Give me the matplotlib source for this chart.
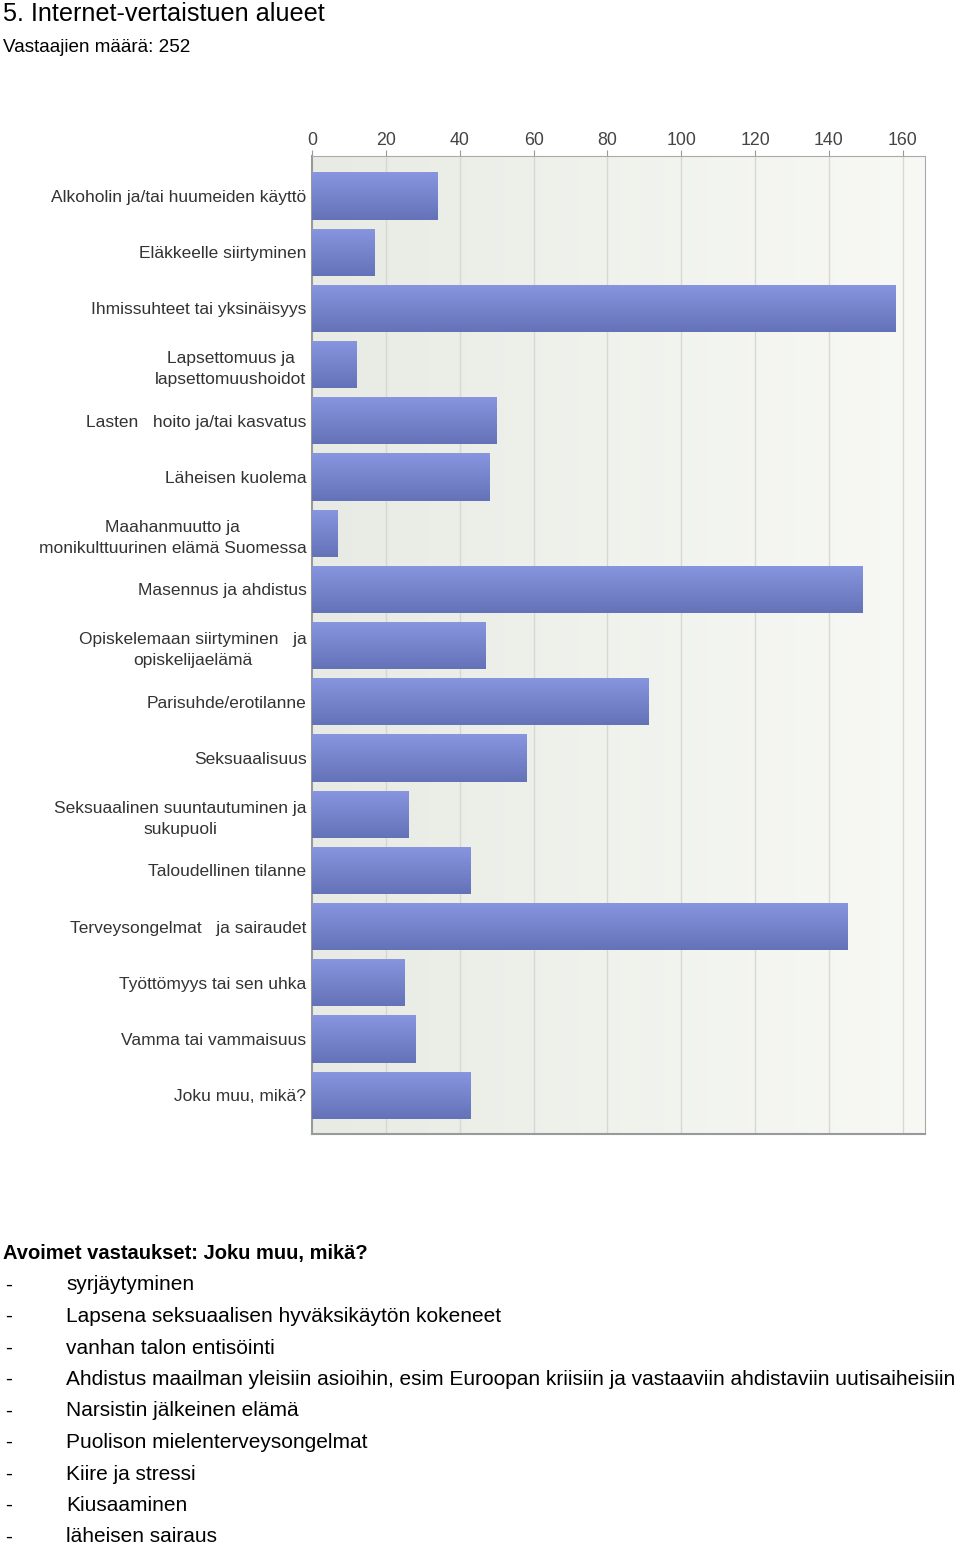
import numpy as np
import matplotlib
matplotlib.use("Agg")
import matplotlib.pyplot as plt
from matplotlib.colors import LinearSegmentedColormap

plt.rcParams['font.family'] = ['Liberation Sans', 'DejaVu Sans']

categories = [
    "Alkoholin ja/tai huumeiden käyttö",
    "Eläkkeelle siirtyminen",
    "Ihmissuhteet tai yksinäisyys",
    "Lapsettomuus ja\nlapsettomuushoidot",
    "Lasten   hoito ja/tai kasvatus",
    "Läheisen kuolema",
    "Maahanmuutto ja\nmonikulttuurinen elämä Suomessa",
    "Masennus ja ahdistus",
    "Opiskelemaan siirtyminen   ja\nopiskelijaelämä",
    "Parisuhde/erotilanne",
    "Seksuaalisuus",
    "Seksuaalinen suuntautuminen ja\nsukupuoli",
    "Taloudellinen tilanne",
    "Terveysongelmat   ja sairaudet",
    "Työttömyys tai sen uhka",
    "Vamma tai vammaisuus",
    "Joku muu, mikä?",
]
values = [34, 17, 158, 12, 50, 48, 7, 149, 47, 91, 58, 26, 43, 145, 25, 28, 43]
xticks = [0, 20, 40, 60, 80, 100, 120, 140, 160]

title = "5. Internet-vertaistuen alueet"
subtitle = "Vastaajien määrä: 252"
open_heading = "Avoimet vastaukset: Joku muu, mikä?"
open_answers = [
    "syrjäytyminen",
    "Lapsena seksuaalisen hyväksikäytön kokeneet",
    "vanhan talon entisöinti",
    "Ahdistus maailman yleisiin asioihin, esim Euroopan kriisiin ja vastaaviin ahdistaviin uutisaiheisiin",
    "Narsistin jälkeinen elämä",
    "Puolison mielenterveysongelmat",
    "Kiire ja stressi",
    "Kiusaaminen",
    "läheisen sairaus",
]

W, H = 960, 1545
fig = plt.figure(figsize=(W / 100, H / 100), dpi=100)

ax = fig.add_axes([312 / W, 1 - 1134 / H, (925 - 312) / W, (1134 - 156) / H])
n = len(categories)
ypos = np.arange(n)

# background gradient
bg = LinearSegmentedColormap.from_list("bg", ["#e8ebe4", "#f8f9f5"])
ax.imshow(np.linspace(0, 1, 256).reshape(1, -1), cmap=bg, aspect='auto',
          extent=(0, 1, 0, 1), transform=ax.transAxes, zorder=0)

for xt in xticks[1:]:
    ax.axvline(xt, color="#d6d9d2", lw=1.0, zorder=1)

barcm = LinearSegmentedColormap.from_list("bar", ["#6472b8", "#8896e0"])
grad = np.linspace(0, 1, 64).reshape(-1, 1)
h = 0.84
bars = ax.barh(ypos, values, height=h, color="#7685cc", zorder=2, edgecolor='none')
for b, y, v in zip(bars, ypos, values):
    im = ax.imshow(grad, cmap=barcm, aspect='auto', origin='lower',
                   extent=(0, v, y + h / 2, y - h / 2), zorder=3)
    im.set_clip_path(b)

ax.set_xticks(xticks)
ax.xaxis.tick_top()
ax.tick_params(axis='x', length=4, color="#999999", labelsize=12.8,
               labelcolor="#444444", pad=1)
ax.set_yticks(ypos)
ax.set_yticklabels(categories, fontsize=12.5, color="#333333",
                   multialignment='center', linespacing=1.5)
ax.tick_params(axis='y', length=0, pad=4)
for s in ['top', 'right']:
    ax.spines[s].set_color("#aaaaaa")
for s in ['left', 'bottom']:
    ax.spines[s].set_color("#999999")
    ax.spines[s].set_linewidth(1.5)
ax.set_xlim(0, 166)
ax.set_ylim(n - 1 + 0.69, -0.71)

fig.text(3 / W, 1 - 14 / H, title, fontsize=18.2, color="#000000", va='center', ha='left')
fig.text(3 / W, 1 - 48 / H, subtitle, fontsize=13.6, color="#000000", va='center', ha='left')

fig.text(3 / W, 1 - 1254 / H, open_heading, fontsize=14.5, fontweight='bold',
         va='center', ha='left')
for i, ans in enumerate(open_answers):
    yy = 1 - (1285 + i * 31.5) / H
    fig.text(5 / W, yy, "-", fontsize=15, va='center', ha='left')
    fig.text(66 / W, yy, ans, fontsize=15, va='center', ha='left')

fig.savefig("out.png", dpi=100)
